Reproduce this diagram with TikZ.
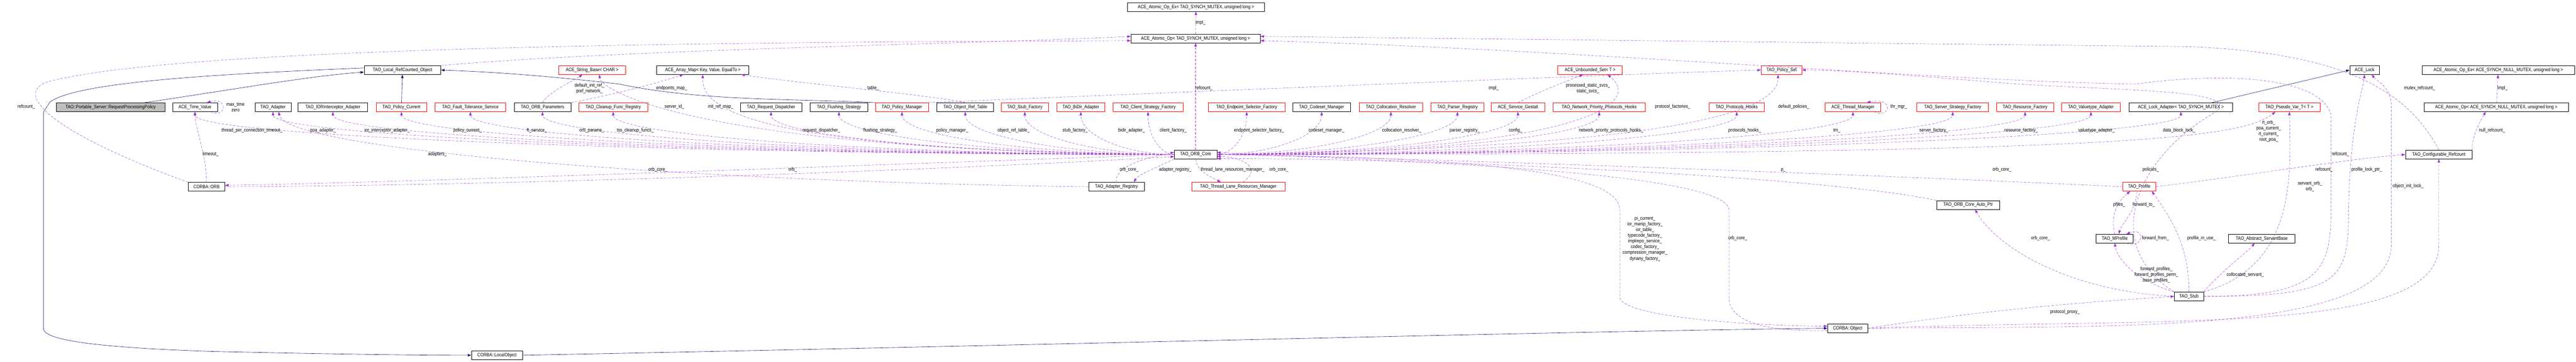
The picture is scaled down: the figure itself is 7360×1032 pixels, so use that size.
\documentclass[tikz,border=0pt]{standalone}
\usepackage{fontspec}
\newfontfamily\dfont[FakeStretch=0.85]{Liberation Sans}
\usetikzlibrary{arrows.meta,calc}
\definecolor{dorch}{HTML}{9A32CD}
\definecolor{mblue}{HTML}{191970}
\definecolor{grayf}{HTML}{BFBFBF}
\tikzset{
  box/.style={draw=black,line width=0.5pt,minimum height=12.5pt,inner sep=1pt,font=\dfont\fontsize{7}{8}\selectfont,fill=white},
  rbox/.style={box,draw=red},
  bw/.style={minimum width=#1*0.5pt},
  lbl/.style={inner sep=0pt,align=center,font=\dfont\fontsize{7}{8.2}\selectfont},
  dep/.style={draw=dorch,dashed,dash pattern=on 3.5pt off 2pt,line width=0.35pt,-{Triangle[length=5pt,width=3.6pt,fill=dorch]}},
  inh/.style={draw=mblue,line width=0.45pt,-{Triangle[length=5pt,width=3.6pt,fill=mblue]}}
}
\newcommand{\depL}[1]{\draw[dep] (core.west) .. controls ($(core.west)!0.5!(#1.south |- core.west)$) and ($(#1.south)+(0,70)$) .. (#1.south);}
\newcommand{\depR}[1]{\draw[dep] (core.east) .. controls ($(core.east)!0.5!(#1.south |- core.east)$) and ($(#1.south)+(0,70)$) .. (#1.south);}
\begin{document}
\begin{tikzpicture}[x=0.5pt,y=-0.5pt]
\useasboundingbox (0,0) rectangle (7360,1032);
% top rows
\node[box,bw=391] (atExT) at (3417,20) {ACE\_Atomic\_Op\_Ex< TAO\_SYNCH\_MUTEX, unsigned long >};
\node[box,bw=370] (atopT) at (3416,110) {ACE\_Atomic\_Op< TAO\_SYNCH\_MUTEX, unsigned long >};
\node[box,bw=219] (lro) at (1150,200) {TAO\_Local\_RefCounted\_Object};
\node[rbox,bw=191] (strb) at (1692,200) {ACE\_String\_Base< CHAR >};
\node[box,bw=263] (amap) at (2008,200) {ACE\_Array\_Map< Key, Value, EqualTo >};
\node[rbox,bw=184] (uset) at (4543,200) {ACE\_Unbounded\_Set< T >};
\node[rbox,bw=117] (pset) at (5090,200) {TAO\_Policy\_Set};
\node[box,bw=85] (lock) at (6756,200) {ACE\_Lock};
\node[box,bw=436] (atExN) at (7138,200) {ACE\_Atomic\_Op\_Ex< ACE\_SYNCH\_NULL\_MUTEX, unsigned long >};
% row
\node[box,bw=310,fill=grayf] (rpp) at (316,306) {TAO::Portable\_Server::RequestProcessingPolicy};
\node[box,bw=128] (tv) at (557,306) {ACE\_Time\_Value};
\node[box,bw=103] (adp) at (780,306) {TAO\_Adapter};
\node[box,bw=198] (ior) at (951,306) {TAO\_IORInterceptor\_Adapter};
\node[rbox,bw=144] (pcur) at (1147,306) {TAO\_Policy\_Current};
\node[rbox,bw=202] (ft) at (1344,306) {TAO\_Fault\_Tolerance\_Service};
\node[box,bw=162] (orbp) at (1550,306) {TAO\_ORB\_Parameters};
\node[rbox,bw=198] (clean) at (1752,306) {TAO\_Cleanup\_Func\_Registry};
\node[box,bw=176] (rd) at (2203,306) {TAO\_Request\_Dispatcher};
\node[box,bw=164] (fs) at (2397,306) {TAO\_Flushing\_Strategy};
\node[rbox,bw=151] (pm) at (2577,306) {TAO\_Policy\_Manager};
\node[box,bw=162] (ort) at (2758,306) {TAO\_Object\_Ref\_Table};
\node[rbox,bw=135] (sf) at (2928,306) {TAO\_Stub\_Factory};
\node[rbox,bw=138] (bidir) at (3088,306) {TAO\_BiDir\_Adapter};
\node[rbox,bw=199] (csf) at (3280,306) {TAO\_Client\_Strategy\_Factory};
\node[rbox,bw=218] (esf) at (3562,306) {TAO\_Endpoint\_Selector\_Factory};
\node[box,bw=166] (csm) at (3776,306) {TAO\_Codeset\_Manager};
\node[rbox,bw=181] (cres) at (3974,306) {TAO\_Collocation\_Resolver};
\node[rbox,bw=151] (preg) at (4164,306) {TAO\_Parser\_Registry};
\node[rbox,bw=152] (sg) at (4337,306) {ACE\_Service\_Gestalt};
\node[rbox,bw=263] (npph) at (4569,306) {TAO\_Network\_Priority\_Protocols\_Hooks};
\node[rbox,bw=158] (ph) at (4962,306) {TAO\_Protocols\_Hooks};
\node[rbox,bw=159] (tm) at (5294,306) {ACE\_Thread\_Manager};
\node[rbox,bw=204] (ssf) at (5579,306) {TAO\_Server\_Strategy\_Factory};
\node[rbox,bw=163] (rf) at (5786,306) {TAO\_Resource\_Factory};
\node[rbox,bw=168] (va) at (5974,306) {TAO\_Valuetype\_Adapter};
\node[box,bw=296] (la) at (6231,306) {ACE\_Lock\_Adapter< TAO\_SYNCH\_MUTEX >};
\node[rbox,bw=176] (pv) at (6541,306) {TAO\_Pseudo\_Var\_T< T >};
\node[box,bw=413] (aopN) at (7132,306) {ACE\_Atomic\_Op< ACE\_SYNCH\_NULL\_MUTEX, unsigned long >};
% lower
\node[box,bw=122] (core) at (3416,441) {TAO\_ORB\_Core};
\node[box,bw=191] (cref) at (6968,441) {TAO\_Configurable\_Refcount};
\node[box,bw=105] (orb) at (590,533) {CORBA::ORB};
\node[box,bw=159] (areg) at (3190,533) {TAO\_Adapter\_Registry};
\node[rbox,bw=266] (tlrm) at (3538,533) {TAO\_Thread\_Lane\_Resources\_Manager};
\node[rbox,bw=95] (prof) at (6112,533) {TAO\_Profile};
\node[box,bw=180] (ap) at (5623,585) {TAO\_ORB\_Core\_Auto\_Ptr};
\node[box,bw=106] (mp) at (6042,681) {TAO\_MProfile};
\node[box,bw=189] (asb) at (6462,681) {TAO\_Abstract\_ServantBase};
\node[box,bw=84] (stub) at (6254,846) {TAO\_Stub};
\node[box,bw=115] (obj) at (5279,937) {CORBA::Object};
\node[box,bw=146] (lobj) at (1420,1014) {CORBA::LocalObject};

% inheritance
\draw[inh] ([xshift=49pt]rpp.north) .. controls (700,250) and (900,215) .. ([yshift=-3pt]lro.west);
\draw[inh] ([yshift=3pt]lro.west) .. controls (600,212) and (220,235) .. (143,291) -- (124,320) -- (124,937) .. controls (124,965) and (220,990) .. (600,1003) .. controls (1000,1012) and (1200,1014) .. (lobj.west);
\draw[inh] (pcur) -- (lro);
\draw[inh] (pm.north west) .. controls (2300,282) and (2000,290) .. (1770,240) .. controls (1550,215) and (1400,205) .. (lro.east);
\draw[inh] (lobj.east) .. controls (3000,985) and (4500,945) .. (obj.west);
\draw[inh] ([xshift=-30pt]la.north east) -- (lock.west);

% core to row
\depL{tv}\depL{adp}\depL{ior}\depL{pcur}\depL{ft}\depL{orbp}\depL{clean}\depL{rd}\depL{fs}\depL{pm}\depL{ort}\depL{sf}\depL{bidir}\depL{csf}
\depR{esf}\depR{csm}\depR{cres}\depR{preg}\depR{sg}\depR{npph}\depR{ph}\depR{tm}\depR{ssf}\depR{rf}\depR{va}\depR{la}
\draw[dep] (core.east) .. controls (6000,440) and (6400,400) .. ([xshift=-20pt]pv.south);
\draw[dep] (core.north) -- (atopT.south);
\draw[dep] (atopT.north) -- (atExT.south);
\draw[dep] (core.west) .. controls (2000,430) and (1720,260) .. ([xshift=10pt]strb.south);
\draw[dep] (core.west) .. controls (2100,430) and (2005,300) .. (amap.south);
\draw[dep] (core.east) .. controls (4500,430) and (4700,300) .. ([xshift=25pt]uset.south);
\draw[dep] (core.east) .. controls (4900,420) and (5080,300) .. ([xshift=-5pt]pset.south);

% other row edges
\draw[dep] (orb.north) .. controls (590,440) and (560,380) .. (tv.south);
\draw[dep] ([xshift=-10pt]tv.south east) .. controls (648,340) and (652,275) .. ([xshift=-15pt]tv.north east);
\draw[dep] ([xshift=-10pt]tm.south east) .. controls (5405,340) and (5410,275) .. ([xshift=-20pt]tm.north east);
\draw[dep] (areg.west) .. controls (2000,520) and (820,430) .. ([xshift=8pt]adp.south);
\draw[dep] (orbp.north) .. controls (1570,260) and (1640,230) .. ([xshift=-14pt]strb.south);
\draw[dep] (orbp.north east) .. controls (1800,260) and (1900,230) .. ([xshift=-28pt]amap.south);
\draw[dep] (ort.north) .. controls (2650,270) and (2300,240) .. ([xshift=55pt]amap.south);
\draw[dep] (pm.north east) .. controls (3200,270) and (4800,205) .. (pset.west);
\draw[dep] (sg.north) .. controls (4400,260) and (4480,230) .. ([xshift=-10pt]uset.south);
\draw[dep] (orb.north west) .. controls (150,380) and (20,260) .. (150,230) .. controls (600,120) and (2500,120) .. ([yshift=-3pt]atopT.west);
\draw[dep] (lro.north east) .. controls (1800,140) and (2800,125) .. ([yshift=3pt]atopT.west);
\draw[dep] (cref.north) .. controls (6880,260) and (6700,150) .. (6250,133) .. controls (5000,120) and (4200,110) .. ([yshift=3pt]atopT.east);
\draw[dep] (stub.east) .. controls (6620,846) and (6660,780) .. (6660,600) -- (6660,330) .. controls (6640,230) and (6400,200) .. (6100,240) .. controls (5500,230) and (4500,140) .. ([yshift=-3pt]atopT.east);
\draw[dep] (stub.north west) .. controls (6000,700) and (6100,450) .. (6330,320) .. controls (6420,250) and (6000,260) .. (5700,235) .. controls (5400,210) and (5250,200) .. (pset.east);
\draw[dep] (stub.north east) .. controls (6560,760) and (6545,500) .. (pv.south);
\draw[dep] (stub.east) .. controls (6690,846) and (6710,800) .. (6710,600) .. controls (6715,350) and (6750,260) .. (lock.south);
\draw[dep] (obj.east) .. controls (6000,930) and (6832,960) .. (6832,700) -- (6832,300) .. controls (6832,250) and (6790,230) .. ([xshift=10pt]lock.south);
\draw[dep] (obj.east) .. controls (6200,905) and (6968,960) .. (6968,700) -- (cref.south);
\draw[dep] (prof.east) .. controls (6500,490) and (6700,455) .. (cref.west);
\draw[dep] (cref.north east) .. controls (7060,390) and (7090,340) .. ([xshift=-15pt]aopN.south);
\draw[dep] (aopN) -- (atExN);

% lower edges
\draw[dep] (core.west) .. controls (2500,470) and (1200,520) .. ([yshift=2pt]orb.east);
\draw[dep] (orb.east) .. controls (1500,530) and (2800,480) .. ([yshift=-3pt]core.west);
\draw[dep] (core.south west) .. controls (3300,480) and (3250,500) .. ([xshift=-15pt]areg.north east);
\draw[dep] (areg.north) .. controls (3180,470) and (3300,445) .. ([yshift=3pt]core.west);
\draw[dep] (core.south) .. controls (3420,490) and (3460,505) .. ([xshift=-25pt]tlrm.north);
\draw[dep] ([xshift=-60pt]tlrm.north east) .. controls (3620,470) and (3520,445) .. ([yshift=-3pt]core.east);
\draw[dep] (core.east) .. controls (4300,450) and (4628,500) .. (4628,600) -- (4628,850) .. controls (4640,905) and (5000,930) .. ([yshift=3pt]obj.west);
\draw[dep] ([yshift=-3pt]obj.west) .. controls (5000,950) and (4940,900) .. (4940,850) -- (4940,600) .. controls (4940,480) and (3800,455) .. ([yshift=3pt]core.east);
\draw[dep] (prof.west) .. controls (5600,510) and (4200,455) .. (core.east);
\draw[dep] (ap.north west) .. controls (5200,500) and (4000,450) .. ([yshift=-6pt]core.east);
\draw[dep] (stub.west) .. controls (5900,830) and (5700,700) .. ([xshift=10pt]ap.south);
\draw[dep] (obj.east) .. controls (5700,880) and (6000,860) .. (stub.west);
\draw[dep] (stub.north) .. controls (6255,700) and (6200,620) .. ([xshift=18pt]prof.south);
\draw[dep] (mp.north) .. controls (6030,620) and (6045,580) .. ([xshift=-13pt]prof.south);
\draw[dep] ([xshift=-3pt]prof.south) .. controls (6100,610) and (6060,640) .. ([xshift=6pt]mp.north);
\draw[dep] ([xshift=-10pt]mp.south east) .. controls (6125,715) and (6130,645) .. ([xshift=-10pt]mp.north east);
\draw[dep] (stub.north west) .. controls (6100,800) and (6050,740) .. (mp.south);
\draw[dep] (stub.north east) .. controls (6340,780) and (6420,720) .. ([xshift=-10pt]asb.south);

% labels
\node[lbl] (l1) at (75,305) {refcount\_};
\node[lbl] (l2) at (673,306) {max\_time\\zero};
\node[lbl] (l3) at (720,373) {thread\_per\_connection\_timeout\_};
\node[lbl] (l4) at (923,373) {poa\_adapter\_};
\node[lbl] (l5) at (1106,373) {ior\_interceptor\_adapter\_};
\node[lbl] (l6) at (602,440) {timeout\_};
\node[lbl] (l7) at (1250,440) {adapters\_};
\node[lbl] (l8) at (1684,252) {default\_init\_ref\_\\pref\_network\_};
\node[lbl] (l9) at (1919,252) {endpoints\_map\_};
\node[lbl] (l10) at (1927,305) {server\_id\_};
\node[lbl] (l11) at (2059,305) {init\_ref\_map\_};
\node[lbl] (l12) at (2495,252) {table\_};
\node[lbl] (l13) at (1336,373) {policy\_current\_};
\node[lbl] (l14) at (1534,373) {ft\_service\_};
\node[lbl] (l15) at (1691,373) {orb\_params\_};
\node[lbl] (l16) at (1815,373) {tss\_cleanup\_funcs\_};
\node[lbl] (l17) at (2347,373) {request\_dispatcher\_};
\node[lbl] (l18) at (2515,373) {flushing\_strategy\_};
\node[lbl] (l19) at (2721,373) {policy\_manager\_};
\node[lbl] (l20) at (2896,373) {object\_ref\_table\_};
\node[lbl] (l21) at (3072,373) {stub\_factory\_};
\node[lbl] (l22) at (3233,373) {bidir\_adapter\_};
\node[lbl] (l23) at (3352,373) {client\_factory\_};
\node[lbl] (l24) at (3597,373) {endpoint\_selector\_factory\_};
\node[lbl] (l25) at (3790,373) {codeset\_manager\_};
\node[lbl] (l26) at (4005,373) {collocation\_resolver\_};
\node[lbl] (l27) at (4185,373) {parser\_registry\_};
\node[lbl] (l28) at (4330,373) {config\_};
\node[lbl] (l29) at (4603,373) {network\_priority\_protocols\_hooks\_};
\node[lbl] (l30) at (4985,373) {protocols\_hooks\_};
\node[lbl] (l31) at (4268,252) {impl\_};
\node[lbl] (l32) at (4537,252) {processed\_static\_svcs\_\\static\_svcs\_};
\node[lbl] (l33) at (4779,305) {protocol\_factories\_};
\node[lbl] (l34) at (3440,252) {refcount\_};
\node[lbl] (l35) at (3430,65) {impl\_};
\node[lbl] (l36) at (1880,485) {orb\_core\_};
\node[lbl] (l37) at (2265,485) {orb\_};
\node[lbl] (l38) at (3226,485) {orb\_core\_};
\node[lbl] (l39) at (3358,485) {adapter\_registry\_};
\node[lbl] (l40) at (3522,485) {thread\_lane\_resources\_manager\_};
\node[lbl] (l41) at (3654,485) {orb\_core\_};
\node[lbl] (l42) at (5125,305) {default\_policies\_};
\node[lbl] (l43) at (5248,373) {tm\_};
\node[lbl] (l44) at (5425,305) {thr\_mgr\_};
\node[lbl] (l45) at (5525,373) {server\_factory\_};
\node[lbl] (l46) at (5775,373) {resource\_factory\_};
\node[lbl] (l47) at (5990,373) {valuetype\_adapter\_};
\node[lbl] (l48) at (6226,373) {data\_block\_lock\_};
\node[lbl] (l49) at (6482,375) {rt\_orb\_\\poa\_current\_\\rt\_current\_\\root\_poa\_};
\node[lbl] (l50) at (6913,252) {mutex\_refcount\_};
\node[lbl] (l51) at (7150,252) {impl\_};
\node[lbl] (l52) at (7120,373) {null\_refcount\_};
\node[lbl] (l53) at (5095,485) {p\_};
\node[lbl] (l54) at (5720,485) {orb\_core\_};
\node[lbl] (l55) at (6145,485) {policies\_};
\node[lbl] (l56) at (6687,440) {refcount\_};
\node[lbl] (l57) at (6640,485) {refcount\_};
\node[lbl] (l58) at (6762,485) {profile\_lock\_ptr\_};
\node[lbl] (l59) at (6600,532) {servant\_orb\_\\orb\_};
\node[lbl] (l60) at (6880,532) {object\_init\_lock\_};
\node[lbl] (l61) at (6055,584) {pfiles\_};
\node[lbl] (l62) at (6125,584) {forward\_to\_};
\node[lbl] (l63) at (5830,680) {orb\_core\_};
\node[lbl] (l64) at (6158,680) {forward\_from\_};
\node[lbl] (l65) at (6290,680) {profile\_in\_use\_};
\node[lbl] (l66) at (6161,785) {forward\_profiles\_\\forward\_profiles\_perm\_\\base\_profiles\_};
\node[lbl] (l67) at (6415,785) {collocated\_servant\_};
\node[lbl] (l68) at (5900,891) {protocol\_proxy\_};
\node[lbl] (l69) at (4700,681) {pi\_current\_\\ior\_manip\_factory\_\\ior\_table\_\\typecode\_factory\_\\implrepo\_service\_\\codec\_factory\_\\compression\_manager\_\\dynany\_factory\_};
\node[lbl] (l70) at (4965,680) {orb\_core\_};
\end{tikzpicture}
\end{document}
